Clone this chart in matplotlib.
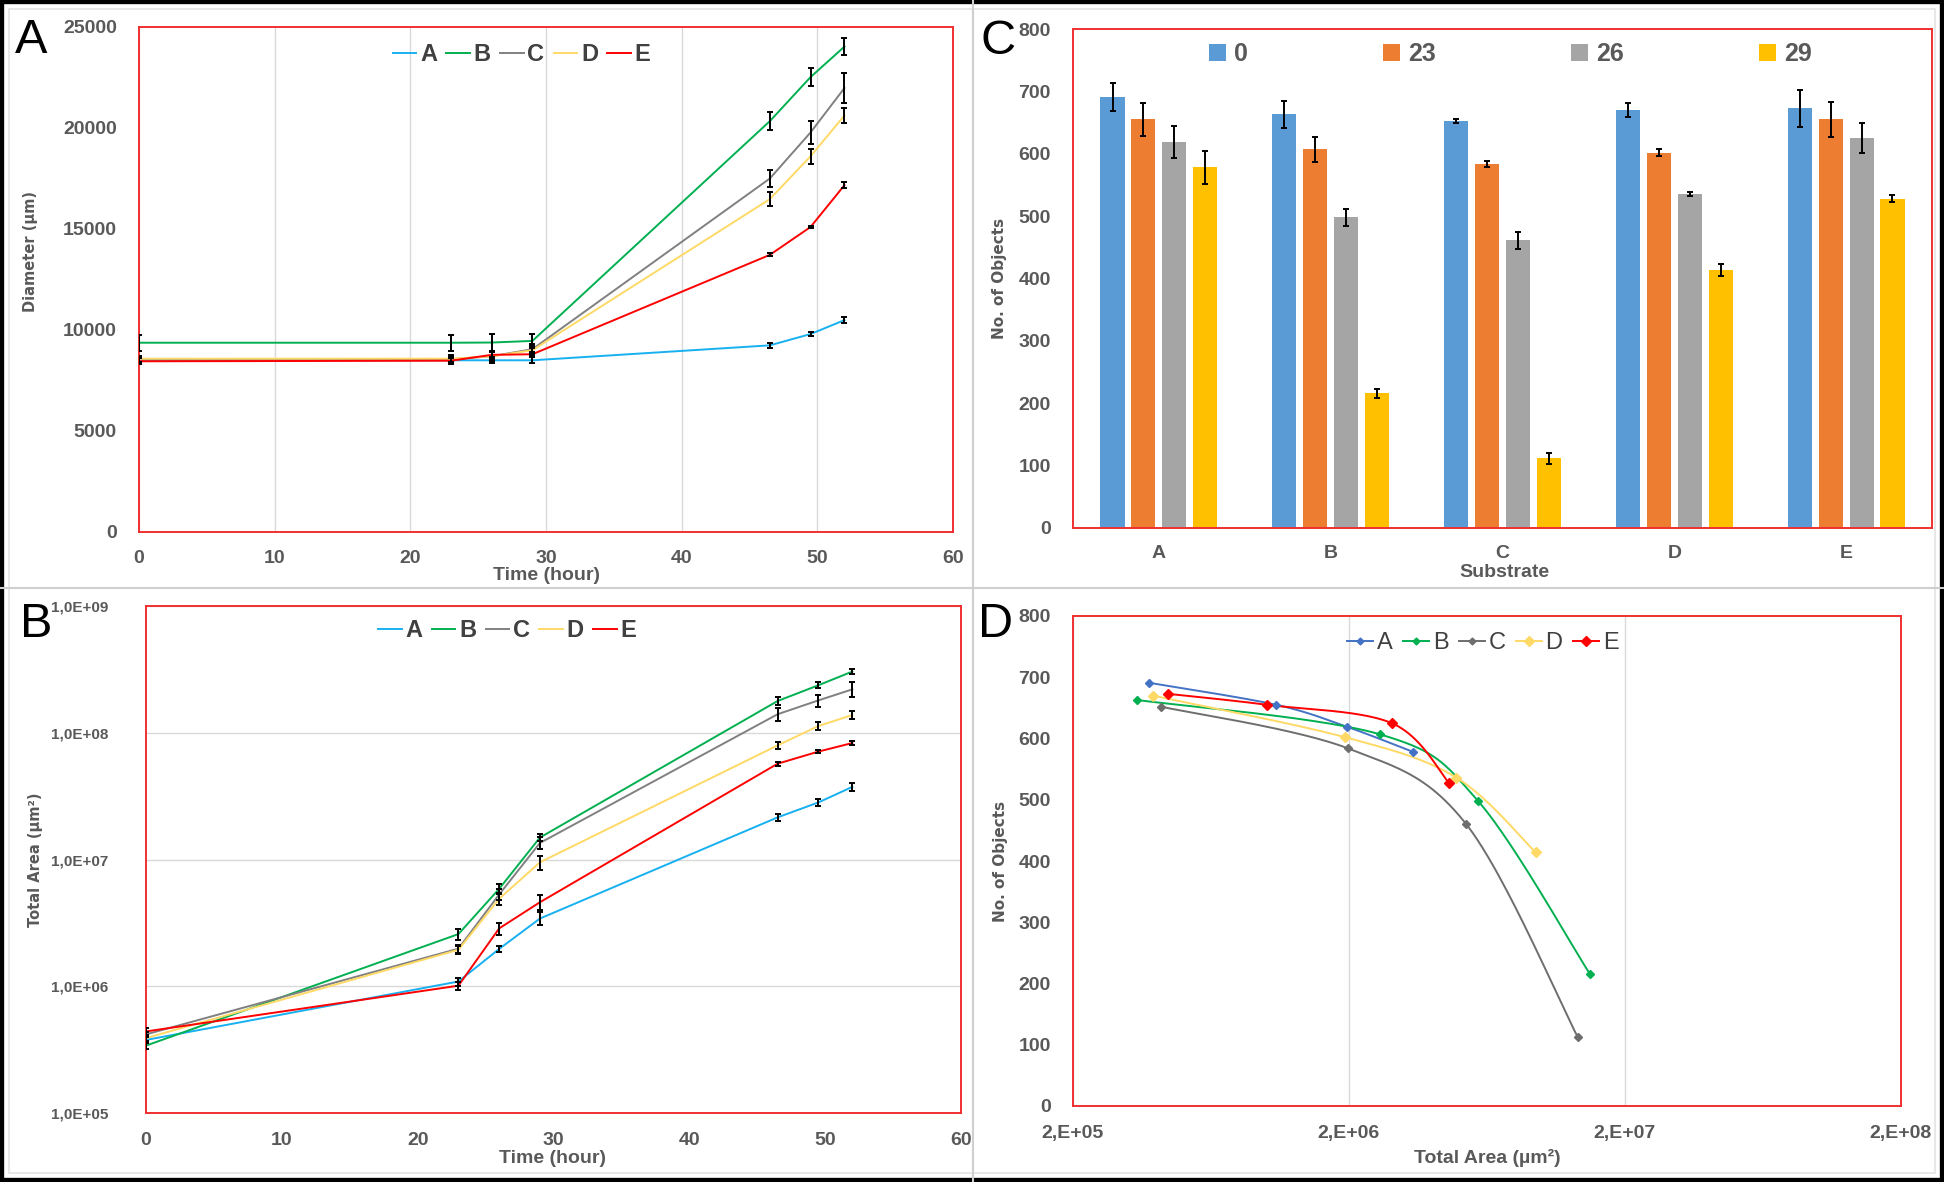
import matplotlib
matplotlib.use('Agg')
import matplotlib.pyplot as plt
import numpy as np
from matplotlib.lines import Line2D
from matplotlib.patches import Patch, Rectangle

plt.rcParams['font.family'] = ['Liberation Sans', 'DejaVu Sans']

# ---------------- data ----------------
time_h = [0, 23, 26, 29, 46.5, 49.5, 52]
substrates = ['A', 'B', 'C', 'D', 'E']

# Panel A: diameter (um)
diam_A = [8500, 8500, 8500, 8500, 9240, 9800, 10490]
diam_B = [9370, 9370, 9380, 9460, 20340, 22520, 24030]
diam_C = [8500, 8550, 8700, 9050, 17500, 19780, 21980]
diam_D = [8580, 8580, 8700, 9000, 16480, 18600, 20620]
diam_E = [8450, 8480, 8770, 8800, 13720, 15100, 17170]
diam_err_A = [150, 150, 150, 150, 120, 100, 160]
diam_err_B = [400, 400, 400, 350, 460, 430, 420]
diam_err_C = [200, 200, 250, 250, 420, 590, 740]
diam_err_D = [150, 150, 200, 200, 330, 370, 390]
diam_err_E = [150, 150, 150, 100, 70, 60, 140]

# Panel B: total area (um^2)
area_A = [3.77e5, 1.09e6, 1.97e6, 3.42e6, 2.15e7, 2.82e7, 3.74e7]
area_B = [3.40e5, 2.58e6, 5.87e6, 1.49e7, 1.78e8, 2.37e8, 3.04e8]
area_C = [4.17e5, 1.98e6, 5.30e6, 1.35e7, 1.40e8, 1.80e8, 2.20e8]
area_D = [3.90e5, 1.94e6, 4.90e6, 9.50e6, 7.95e7, 1.13e8, 1.38e8]
area_E = [4.40e5, 1.01e6, 2.86e6, 4.60e6, 5.70e7, 7.10e7, 8.30e7]
area_err_A = [2e4, 8e4, 1e5, 4e5, 1.5e6, 2e6, 2.5e6]
area_err_B = [2e4, 2.5e5, 5e5, 9e5, 1.2e7, 1.3e7, 1.2e7]
area_err_C = [2e4, 1.5e5, 5e5, 1.5e6, 1.6e7, 2e7, 3e7]
area_err_D = [2e4, 1.5e5, 5e5, 1.2e6, 5e6, 8e6, 1e7]
area_err_E = [3e4, 8e4, 3e5, 6e5, 2e6, 1.5e6, 3e6]

# Panel C: number of objects at time points
count_times = ['0', '23', '26', '29']
count_A = [691, 655, 619, 578]
count_B = [663, 607, 498, 216]
count_C = [652, 584, 461, 112]
count_D = [670, 602, 536, 414]
count_E = [673, 655, 625, 528]
count_err_A = [23, 26, 26, 27]
count_err_B = [22, 20, 14, 7]
count_err_C = [3, 5, 13, 9]
count_err_D = [11, 5, 3, 10]
count_err_E = [30, 28, 24, 6]

diam = [diam_A, diam_B, diam_C, diam_D, diam_E]
diam_err = [diam_err_A, diam_err_B, diam_err_C, diam_err_D, diam_err_E]
area = [area_A, area_B, area_C, area_D, area_E]
area_err = [area_err_A, area_err_B, area_err_C, area_err_D, area_err_E]
counts = [count_A, count_B, count_C, count_D, count_E]
count_err = [count_err_A, count_err_B, count_err_C, count_err_D, count_err_E]

line_colors = ['#17B0F0', '#00B050', '#808080', '#FFD966', '#FF0000']
d_colors = ['#4472C4', '#00B050', '#6E6E6E', '#FFD966', '#FF0000']
bar_colors = ['#5B9BD5', '#ED7D31', '#A5A5A5', '#FFC000']

TXT = '#595959'
RED = '#F03030'
GRID = '#D9D9D9'

W, H = 1944, 1182
fig = plt.figure(figsize=(W / 100, H / 100), dpi=100)


def add_ax(left, top, right, bottom):
    return fig.add_axes([left / W, 1 - bottom / H, (right - left) / W, (bottom - top) / H])


def style(ax, xpad, ypad, size=14):
    for s in ax.spines.values():
        s.set_color(RED)
        s.set_linewidth(1.4)
    ax.tick_params(axis='both', which='both', length=0, labelcolor=TXT, labelsize=size)
    ax.tick_params(axis='x', pad=xpad)
    ax.tick_params(axis='y', pad=ypad)
    ax.tick_params(which='minor', labelbottom=False, labelleft=False)
    for lbl in ax.get_xticklabels() + ax.get_yticklabels():
        lbl.set_fontweight('bold')


def ylab(ax, text, x, y, size):
    ax.set_ylabel(text, family='DejaVu Sans', fontweight='bold', color=TXT, fontsize=size)
    ax.yaxis.set_label_coords(x, y)
    ax.yaxis.label.set_verticalalignment('center')


def xlab(ax, text, x, y):
    ax.set_xlabel(text, fontweight='bold', color=TXT, fontsize=14)
    ax.xaxis.set_label_coords(x, y)
    ax.xaxis.label.set_verticalalignment('center')


# ---------------- Panel A ----------------
axA = add_ax(139, 27, 953, 532)
for i, s in enumerate(substrates):
    axA.plot(time_h, diam[i], color=line_colors[i], lw=1.4, label=s, zorder=3)
for i in range(5):
    axA.errorbar(time_h, diam[i], yerr=diam_err[i], fmt='none', ecolor='black',
                 elinewidth=1.4, capsize=2.5, capthick=1.4, zorder=4)
axA.set_xlim(0, 60)
axA.set_ylim(0, 25000)
axA.set_xticks(range(0, 61, 10))
axA.set_yticks(range(0, 25001, 5000))
axA.grid(axis='x', color=GRID, lw=1)
axA.set_axisbelow(True)
style(axA, 13, 16)
ylab(axA, 'Diameter (µm)', -0.133, 0.556, 10.5)
xlab(axA, 'Time (hour)', 0.5, -0.087)
axA.legend(loc='center', bbox_to_anchor=(0.47, 0.945), ncol=5, frameon=False,
           handlelength=1.0, handletextpad=0.15, columnspacing=0.4,
           prop={'weight': 'bold', 'size': 17}, labelcolor='#404040')

# ---------------- Panel B ----------------
axB = add_ax(146, 606, 961, 1113)
for i, s in enumerate(substrates):
    axB.plot(time_h, area[i], color=line_colors[i], lw=1.4, label=s, zorder=3)
for i in range(5):
    axB.errorbar(time_h, area[i], yerr=area_err[i], fmt='none', ecolor='black',
                 elinewidth=1.4, capsize=2.5, capthick=1.4, zorder=4)
axB.set_yscale('log')
axB.set_xlim(0, 60)
axB.set_ylim(1e5, 1e9)
axB.set_xticks(range(0, 61, 10))
axB.set_yticks([1e5, 1e6, 1e7, 1e8, 1e9])
axB.set_yticklabels(['1,0E+05', '1,0E+06', '1,0E+07', '1,0E+08', '1,0E+09'])
axB.minorticks_off()
axB.grid(axis='y', color=GRID, lw=1)
axB.set_axisbelow(True)
style(axB, 13.5, 27)
for lbl in axB.get_yticklabels():
    lbl.set_fontsize(11)
ylab(axB, 'Total Area (µm²)', -0.135, 0.5, 10.5)
xlab(axB, 'Time (hour)', 0.499, -0.089)
axB.legend(loc='center', bbox_to_anchor=(0.443, 0.951), ncol=5, frameon=False,
           handlelength=1.0, handletextpad=0.15, columnspacing=0.4,
           prop={'weight': 'bold', 'size': 17}, labelcolor='#404040')

# ---------------- Panel C ----------------
axC = add_ax(1073, 29, 1932, 528)
xpos = np.arange(len(substrates))
offsets = [-0.27, -0.09, 0.09, 0.27]
for j, t in enumerate(count_times):
    vals = [counts[i][j] for i in range(5)]
    errs = [count_err[i][j] for i in range(5)]
    axC.bar(xpos + offsets[j], vals, width=0.14, color=bar_colors[j], label=t, zorder=2)
    axC.errorbar(xpos + offsets[j], vals, yerr=errs, fmt='none', ecolor='black',
                 elinewidth=1.4, capsize=2.5, capthick=1.4, zorder=3)
axC.set_xlim(-0.5, 4.5)
axC.set_ylim(0, 800)
axC.set_xticks(xpos)
axC.set_xticklabels(substrates)
axC.set_yticks(range(0, 801, 100))
style(axC, 12, 16)
ylab(axC, 'No. of Objects', -0.085, 0.5, 11)
xlab(axC, 'Substrate', 0.502, -0.09)
axC.legend(loc='lower left', bbox_to_anchor=(0.158, 0.925, 0.702, 0.05), mode='expand',
           ncol=4, frameon=False, borderpad=0, borderaxespad=0,
           handlelength=0.7, handleheight=0.7, handletextpad=0.3,
           prop={'weight': 'bold', 'size': 18}, labelcolor=TXT)

# ---------------- Panel D ----------------
axD = add_ax(1073, 616, 1901, 1106)
axD.set_xscale('log')
xl = (2e5, 2e8)
yl = (0, 800)
axD.set_xlim(*xl)
axD.set_ylim(*yl)
axw, axh = 828.0, 490.0


def smooth_curve(xs, ys):
    lx0, lx1 = np.log10(xl[0]), np.log10(xl[1])
    u = (np.log10(xs) - lx0) / (lx1 - lx0) * axw
    v = (np.asarray(ys, float) - yl[0]) / (yl[1] - yl[0]) * axh
    P = np.column_stack([u, v])
    n = len(P)
    out = []
    t = np.linspace(0, 1, 50)[:, None]
    for k in range(n - 1):
        p0 = P[k - 1] if k > 0 else P[k]
        p1, p2 = P[k], P[k + 1]
        p3 = P[k + 2] if k + 2 < n else P[k + 1]
        c1 = p1 + (p2 - p0) / 6.0
        c2 = p2 - (p3 - p1) / 6.0
        seg = (1 - t) ** 3 * p1 + 3 * (1 - t) ** 2 * t * c1 + 3 * (1 - t) * t ** 2 * c2 + t ** 3 * p2
        out.append(seg if k == 0 else seg[1:])
    S = np.vstack(out)
    xs_s = 10 ** (S[:, 0] / axw * (lx1 - lx0) + lx0)
    ys_s = S[:, 1] / axh * (yl[1] - yl[0]) + yl[0]
    return xs_s, ys_s


handles = []
msizes = [4, 4, 4, 5.5, 5.5]
for i, s in enumerate(substrates):
    xa = area[i][:4]
    yc = counts[i]
    sx, sy = smooth_curve(xa, yc)
    axD.plot(sx, sy, color=d_colors[i], lw=1.4, zorder=3)
    axD.plot(xa, yc, ls='none', marker='D', ms=msizes[i], color=d_colors[i], zorder=4)
    handles.append(Line2D([], [], color=d_colors[i], lw=1.4, marker='D', ms=msizes[i] - 0.5))
axD.set_xticks([2e5, 2e6, 2e7, 2e8])
axD.set_xticklabels(['2,E+05', '2,E+06', '2,E+07', '2,E+08'])
axD.minorticks_off()
axD.set_yticks(range(0, 801, 100))
axD.grid(axis='x', color=GRID, lw=1)
axD.set_axisbelow(True)
style(axD, 13.5, 16)
ylab(axD, 'No. of Objects', -0.088, 0.5, 11)
xlab(axD, 'Total Area (µm²)', 0.5, -0.106)
axD.legend(handles, substrates, loc='center', bbox_to_anchor=(0.495, 0.945), ncol=5,
           frameon=False, handlelength=1.1, handletextpad=0.15, columnspacing=0.45,
           prop={'size': 17}, labelcolor='#404040')

# ---------------- panel letters & frame ----------------
for letter, x, y in [('A', 15, 53), ('C', 980, 54), ('B', 20, 637), ('D', 978, 637)]:
    fig.text(x / W, 1 - y / H, letter, fontsize=35, color='black', va='baseline', ha='left')

fig.add_artist(Rectangle((9 / W, 9 / H), 1 - 18 / W, 1 - 18 / H, transform=fig.transFigure,
                         fill=False, edgecolor='#E3E3E3', lw=1.2))
fig.add_artist(Line2D([973 / W, 973 / W], [0, 1], transform=fig.transFigure, color='#CFCFCF', lw=1.5))
fig.add_artist(Line2D([0, 1], [1 - 588 / H, 1 - 588 / H], transform=fig.transFigure, color='#CFCFCF', lw=1.5))
fig.add_artist(Rectangle((0, 0), 1, 1, transform=fig.transFigure, fill=False, edgecolor='black', lw=6))

fig.savefig('out.png', dpi=100, facecolor='white')
